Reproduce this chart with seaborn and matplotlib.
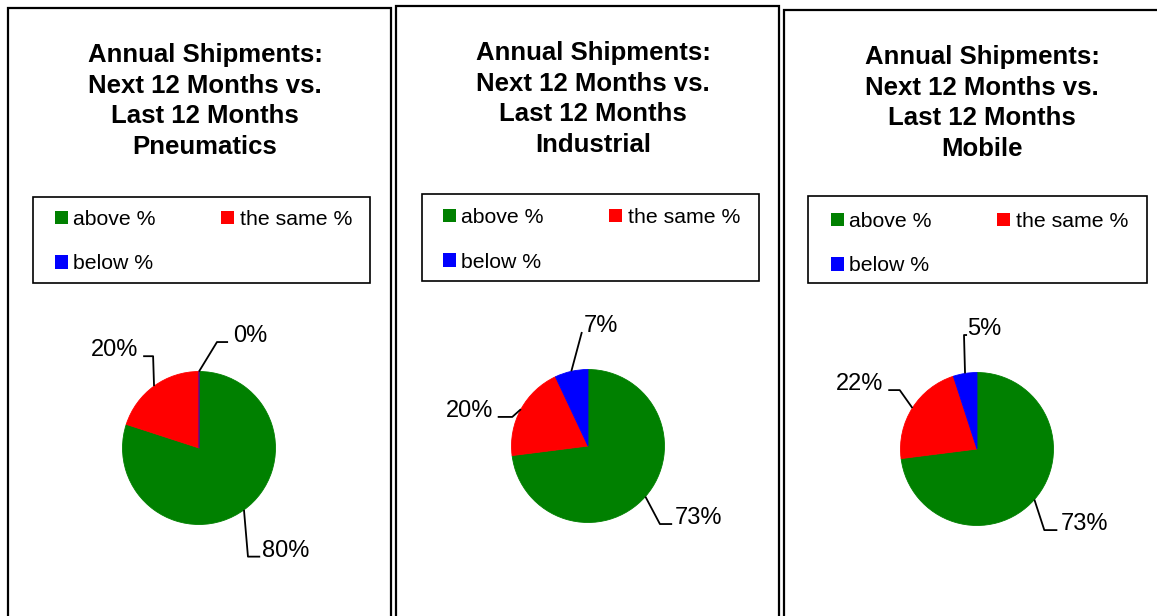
#!/usr/bin/env python3

import numpy as np
import seaborn as sns
import matplotlib.pyplot as plt
from matplotlib.patches import Rectangle, Patch

# data
SEGMENTS = ["above %", "the same %", "below %"]
SEGMENT_COLORS = ["#008000", "#ff0000", "#0000ff"]
SECTORS = ["Pneumatics", "Industrial", "Mobile"]
PNEUMATICS = [80, 20, 0]
INDUSTRIAL = [73, 20, 7]
MOBILE = [73, 22, 5]
TITLE = "Annual Shipments:\nNext 12 Months vs.\nLast 12 Months\n{}"

# layout (pixels, top-left origin)
W, H = 1157, 616
PANEL_BOXES = [(8, 8, 391), (396, 6, 779), (784, 10, 1167)]
PIE_CENTERS = [(199, 448), (588, 446), (977, 449)]
TITLE_CENTERS = [(205, 101), (593, 99), (982, 103)]
LEGEND_BOXES = [(33, 197, 370, 283), (422, 194, 759, 281), (808, 196, 1147, 283)]
LEGEND_ANCHORS = [(55, 210), (443, 208), (831, 212)]
PIE_R = 76.5
# label leaders in pie-radius units: elbow x, elbow y, line end x, text x, ha
LABEL_LAYOUT = [
    [(0.64, -1.42, 0.80, 0.83, "left"),
     (-0.60, 1.20, -0.73, -0.80, "right"),
     (0.235, 1.385, 0.38, 0.44, "left")],
    [(0.94, -1.02, 1.10, 1.13, "left"),
     (-0.99, 0.38, -1.18, -1.24, "right"),
     (-0.08, 1.49, -0.08, -0.05, "left")],
    [(0.88, -1.06, 1.05, 1.09, "left"),
     (-1.01, 0.77, -1.16, -1.22, "right"),
     (-0.17, 1.49, -0.13, -0.13, "left")],
]


def fx(px):
    return px / W


def fy(py):
    return 1 - py / H


def draw_panel(fig, idx, values, sector):
    left, top, right = PANEL_BOXES[idx]
    fig.add_artist(Rectangle((fx(left), fy(630)), fx(right) - fx(left), fy(top) - fy(630),
                             transform=fig.transFigure, fill=False, ec="black", lw=1.6))

    tx, ty = TITLE_CENTERS[idx]
    fig.text(fx(tx), fy(ty), TITLE.format(sector), ha="center", va="center",
             fontsize=18.5, fontweight="bold", linespacing=1.36, color="black")

    # legend frame + entries (row-wise order with 2 columns)
    l, t, r, b = LEGEND_BOXES[idx]
    fig.add_artist(Rectangle((fx(l), fy(b)), fx(r) - fx(l), fy(t) - fy(b),
                             transform=fig.transFigure, fill=False, ec="black", lw=1.2))
    handles = [Patch(facecolor=c, edgecolor="none") for c in SEGMENT_COLORS]
    order = [0, 2, 1]
    anc = LEGEND_ANCHORS[idx]
    fig.legend([handles[i] for i in order], [SEGMENTS[i] for i in order],
               ncol=2, frameon=False, loc="upper left",
               bbox_to_anchor=(fx(anc[0]), fy(anc[1])), bbox_transform=fig.transFigure,
               fontsize=15.3, handlelength=0.6, handleheight=0.6, handletextpad=0.25,
               columnspacing=3.1, labelspacing=1.2, borderpad=0, borderaxespad=0,
               labelcolor="black")

    # pie
    cx, cy = PIE_CENTERS[idx]
    half = 150
    ax = fig.add_axes([fx(cx - half), fy(cy + half), half * 2 / W, half * 2 / H])
    wedges, _ = ax.pie(values, colors=SEGMENT_COLORS, startangle=90, counterclock=False,
                       wedgeprops=dict(linewidth=0.6))
    for w, c in zip(wedges, SEGMENT_COLORS):
        w.set_edgecolor(c)
    lim = half / PIE_R
    ax.set_xlim(-lim, lim)
    ax.set_ylim(-lim, lim)
    ax.axis("off")

    for w, v, (ex, ey, endx, textx, ha) in zip(wedges, values, LABEL_LAYOUT[idx]):
        mid = np.deg2rad((w.theta1 + w.theta2) / 2)
        sx, sy = np.cos(mid), np.sin(mid)
        ax.plot([sx, ex, endx], [sy, ey, ey], color="black", lw=1.3,
                clip_on=False, solid_capstyle="butt")
        ax.text(textx, ey, f"{v}%", ha=ha, va="baseline", fontsize=17,
                color="black", clip_on=False)


def main():
    sns.set_theme(style="white")
    plt.rcParams["font.family"] = ["Liberation Sans", "DejaVu Sans"]
    plt.rcParams["text.color"] = "black"
    fig = plt.figure(figsize=(W / 100, H / 100), dpi=100)
    fig.patch.set_facecolor("white")
    for idx, (vals, sector) in enumerate(zip([PNEUMATICS, INDUSTRIAL, MOBILE], SECTORS)):
        draw_panel(fig, idx, vals, sector)
    fig.savefig("out.png", dpi=100)


if __name__ == "__main__":
    main()
